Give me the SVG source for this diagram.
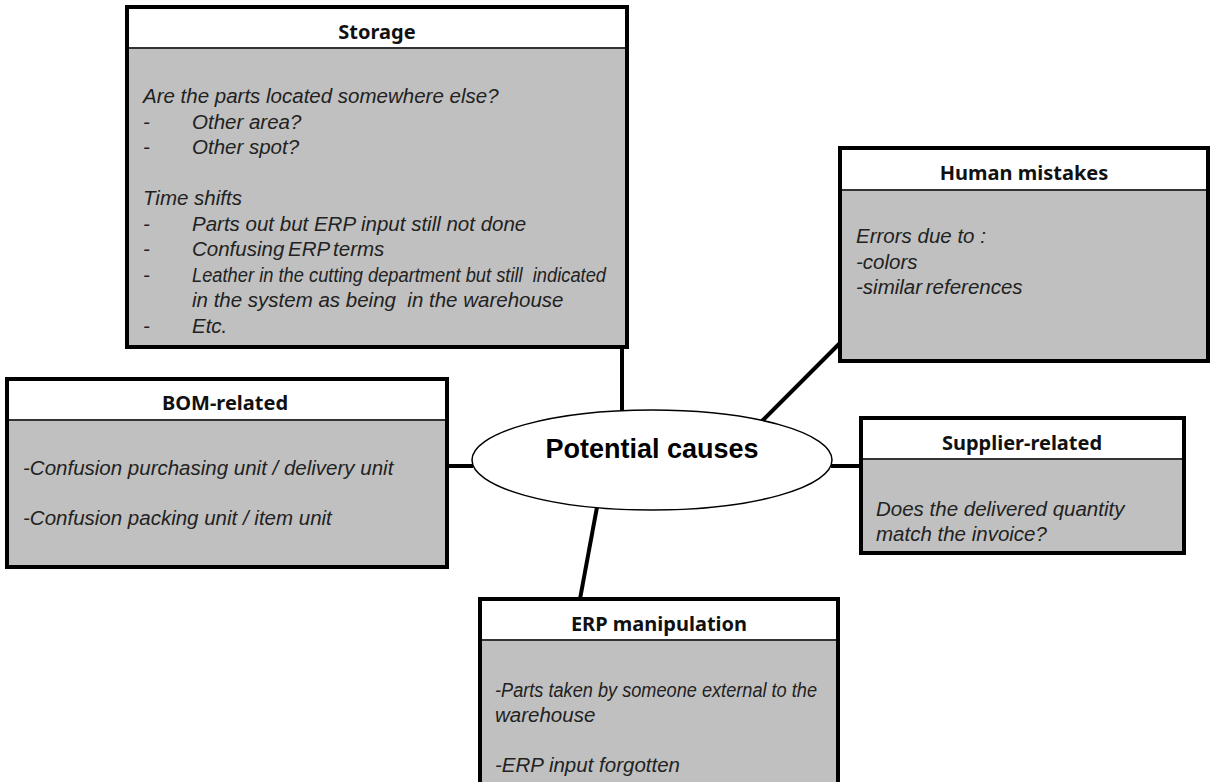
<svg xmlns="http://www.w3.org/2000/svg" width="1210" height="782" viewBox="0 0 1210 782">
<style>
.hdr{fill:#fff}
.body{fill:#c0c0c0}
.frame{fill:none;stroke:#000;stroke-width:4}
.sep{stroke:#333;stroke-width:2}
.ht{font-family:"Noto Sans","Liberation Sans",sans-serif;font-weight:bold;font-size:20px;fill:#111;text-anchor:middle}
.bt{font-family:"Liberation Sans",Arial,sans-serif;font-style:italic;font-size:20.5px;fill:#222}
.conn{stroke:#000;stroke-width:4;fill:none}
</style>
<rect width="1210" height="782" fill="#fff"/>
<g id="connectors">
<line class="conn" x1="622" y1="347" x2="622" y2="411"/>
<line class="conn" x1="762" y1="421" x2="841" y2="342"/>
<line class="conn" x1="447" y1="466" x2="473" y2="466"/>
<line class="conn" x1="831" y1="466" x2="861" y2="466"/>
<line class="conn" x1="597" y1="507" x2="580" y2="599"/>
</g>
<g id="storage">
<rect class="hdr" x="127" y="7" width="500" height="41"/>
<rect class="body" x="127" y="48" width="500" height="299"/>
<line class="sep" x1="127" y1="48" x2="627" y2="48"/>
<rect class="frame" x="127" y="7" width="500" height="340"/>
<text class="ht" x="377" y="39">Storage</text>
<text class="bt" x="143" y="103">Are the parts located somewhere else?</text>
<text class="bt" x="143" y="128.5">-</text><text class="bt" x="192" y="128.5">Other area?</text>
<text class="bt" x="143" y="154">-</text><text class="bt" x="192" y="154">Other spot?</text>
<text class="bt" x="143" y="205">Time shifts</text>
<text class="bt" x="143" y="230.5">-</text><text class="bt" x="192" y="230.5">Parts out but ERP input still not done</text>
<text class="bt" x="143" y="256">-</text><text class="bt" x="192" y="256" word-spacing="-2">Confusing ERP terms</text>
<text class="bt" x="143" y="281.5">-</text><text class="bt" x="192" y="281.5" xml:space="preserve" textLength="414" lengthAdjust="spacingAndGlyphs">Leather in the cutting department but still  indicated</text>
<text class="bt" x="192" y="307" xml:space="preserve">in the system as being  in the warehouse</text>
<text class="bt" x="143" y="332.5">-</text><text class="bt" x="192" y="332.5">Etc.</text>
</g>
<g id="human">
<rect class="hdr" x="840" y="148" width="368" height="42"/>
<rect class="body" x="840" y="190" width="368" height="171"/>
<line class="sep" x1="840" y1="190" x2="1208" y2="190"/>
<rect class="frame" x="840" y="148" width="368" height="213"/>
<text class="ht" x="1024" y="180">Human mistakes</text>
<text class="bt" x="856" y="243">Errors due to :</text>
<text class="bt" x="856" y="269">-colors</text>
<text class="bt" x="856" y="294" word-spacing="-2">-similar references</text>
</g>
<g id="bom">
<rect class="hdr" x="7" y="379" width="440" height="41"/>
<rect class="body" x="7" y="420" width="440" height="147"/>
<line class="sep" x1="7" y1="420" x2="447" y2="420"/>
<rect class="frame" x="7" y="379" width="440" height="188"/>
<text class="ht" x="225" y="410">BOM-related</text>
<text class="bt" x="23" y="475">-Confusion purchasing unit / delivery unit</text>
<text class="bt" x="23" y="525">-Confusion packing unit / item unit</text>
</g>
<g id="center">
<ellipse cx="652" cy="460" rx="180" ry="50" fill="#fff" stroke="#000" stroke-width="1.5"/>
<text x="652" y="458" font-family="'Liberation Sans',Arial,sans-serif" font-weight="bold" font-size="27" text-anchor="middle" fill="#000">Potential causes</text>
</g>
<g id="supplier">
<rect class="hdr" x="861" y="418" width="323" height="41"/>
<rect class="body" x="861" y="459" width="323" height="94"/>
<line class="sep" x1="861" y1="459" x2="1184" y2="459"/>
<rect class="frame" x="861" y="418" width="323" height="135"/>
<text class="ht" x="1022" y="450">Supplier-related</text>
<text class="bt" x="876" y="516">Does the delivered quantity</text>
<text class="bt" x="876" y="541">match the invoice?</text>
</g>
<g id="erp">
<rect class="hdr" x="480" y="599" width="358" height="41"/>
<rect class="body" x="480" y="640" width="358" height="160"/>
<line class="sep" x1="480" y1="640" x2="838" y2="640"/>
<rect class="frame" x="480" y="599" width="358" height="200"/>
<text class="ht" x="659" y="631">ERP manipulation</text>
<text class="bt" x="495" y="697" textLength="322" lengthAdjust="spacingAndGlyphs">-Parts taken by someone external to the</text>
<text class="bt" x="495" y="722">warehouse</text>
<text class="bt" x="495" y="772">-ERP input forgotten</text>
</g>
</svg>
